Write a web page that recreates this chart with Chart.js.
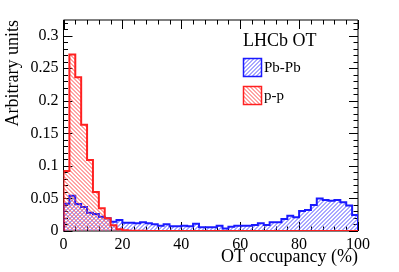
<!DOCTYPE html>
<html>
<head>
<meta charset="utf-8">
<script src="https://cdn.jsdelivr.net/npm/chart.js@4.4.1/dist/chart.umd.min.js"></script>
<style>
  html, body { margin: 0; padding: 0; background: #fff; }
  #wrap { width: 399px; height: 272px; position: relative; }
</style>
</head>
<body>
<div id="wrap"><canvas id="occChart" width="399" height="272"></canvas></div>
<script>
// bin lower edges (%), 2% wide bins
const binEdges = [0, 2, 4, 6, 8, 10, 12, 14, 16, 18, 20, 22, 24, 26, 28, 30, 32, 34, 36, 38,
  40, 42, 44, 46, 48, 50, 52, 54, 56, 58, 60, 62, 64, 66, 68, 70, 72, 74, 76, 78,
  80, 82, 84, 86, 88, 90, 92, 94, 96, 98];
const binWidth = 2;

const pbpbValues = [0.042, 0.054, 0.0415, 0.037, 0.028, 0.026, 0.022, 0.0195, 0.0143, 0.017,
  0.0128, 0.0125, 0.0118, 0.0134, 0.0118, 0.0103, 0.008, 0.0103, 0.0072, 0.0072,
  0.008, 0.0072, 0.0112, 0.0057, 0.0057, 0.0057, 0.008, 0.004, 0.0066, 0.008,
  0.008, 0.008, 0.0092, 0.0118, 0.0092, 0.0134, 0.0134, 0.0184, 0.0235, 0.021,
  0.0307, 0.0323, 0.040, 0.050, 0.0476, 0.0466, 0.0476, 0.044, 0.039, 0.0246];

const ppValues = [0.092, 0.271, 0.236, 0.163, 0.109, 0.060, 0.035, 0.0195, 0.009, 0.0026,
  0.001, 0.0005, 0.0003, 0.0002, 0, 0, 0, 0, 0, 0,
  0, 0, 0, 0, 0, 0, 0, 0, 0, 0,
  0, 0, 0, 0, 0, 0, 0, 0, 0, 0,
  0, 0, 0, 0, 0, 0, 0, 0, 0, 0];

const yTickValues = [0, 0.05, 0.1, 0.15, 0.2, 0.25, 0.3];
const xTickValues = [0, 20, 40, 60, 80, 100];
const seriesNames = ['Pb-Pb', 'p-p'];
const headerText = 'LHCb OT';

const serif = '"Liberation Serif", "DejaVu Serif", serif';

// soft 1px diagonal hatch, repeated every `step` px
function hatch(color, dir, step) {
  const c = document.createElement('canvas');
  c.width = step; c.height = step;
  const g = c.getContext('2d');
  g.strokeStyle = color;
  g.lineWidth = 1;
  g.beginPath();
  for (let k = -1; k <= 2; k++) {
    const off = k * step + 0.5;
    if (dir === '/') {
      g.moveTo(-1, step + off + 1); g.lineTo(step + 1, off - 1);
    } else {
      g.moveTo(-1, off - 1); g.lineTo(step + 1, step + off + 1);
    }
  }
  g.stroke();
  return c;
}

const patterns = {};
function fillPattern(name, color, dir) {
  return (context) => {
    if (!patterns[name]) {
      patterns[name] = context.chart.ctx.createPattern(hatch(color, dir, 4), 'repeat');
    }
    return patterns[name];
  };
}

function steps(values) {
  const pts = [{ x: binEdges[0], y: 0 }];
  values.forEach((v, i) => pts.push({ x: binEdges[i], y: v }));
  const last = binEdges[binEdges.length - 1] + binWidth;
  pts.push({ x: last, y: values[values.length - 1] });
  pts.push({ x: last, y: 0 });
  return pts;
}

const frameTicks = {
  id: 'frameTicks',
  beforeDatasetsDraw(chart) {
    const { ctx, chartArea: a, scales } = chart;
    const x = scales.x, y = scales.y;
    ctx.save();
    ctx.strokeStyle = '#000';
    ctx.lineWidth = 1;
    ctx.beginPath();
    ctx.rect(a.left, a.top, a.right - a.left, a.bottom - a.top);
    for (let k = 0; k <= 32; k++) {
      const py = Math.round(y.getPixelForValue(k / 100)) + 0.5;
      const len = k % 5 === 0 ? 9 : 4.5;
      ctx.moveTo(a.left, py); ctx.lineTo(a.left + len, py);
      ctx.moveTo(a.right, py); ctx.lineTo(a.right - len, py);
    }
    for (let k = 0; k <= 100; k += 4) {
      const px = Math.round(x.getPixelForValue(k)) + 0.5;
      const len = k % 20 === 0 ? 9 : 4.5;
      ctx.moveTo(px, a.bottom); ctx.lineTo(px, a.bottom - len);
      ctx.moveTo(px, a.top); ctx.lineTo(px, a.top + len);
    }
    ctx.stroke();
    ctx.restore();
  },
  afterDraw(chart) {
    const { ctx } = chart;
    ctx.save();
    ctx.fillStyle = '#000';
    ctx.textBaseline = 'middle';
    ctx.textAlign = 'left';
    ctx.font = '18px ' + serif;
    ctx.fillText(headerText, 243, 41);
    const rows = [{ y: 58.5, i: 1 }, { y: 86.5, i: 0 }];
    ctx.font = '15px ' + serif;
    rows.forEach(r => {
      const opts = chart.getDatasetMeta(r.i).dataset.options;
      ctx.fillStyle = opts.backgroundColor;
      ctx.fillRect(243.5, r.y, 18, 18);
      ctx.strokeStyle = opts.borderColor;
      ctx.lineWidth = 1.5;
      ctx.strokeRect(243.5, r.y, 18, 18);
      ctx.fillStyle = '#000';
      ctx.fillText(chart.data.datasets[r.i].label, 264, r.y + 10);
    });
    ctx.restore();
  }
};

new Chart(document.getElementById('occChart'), {
  type: 'line',
  data: {
    datasets: [
      {
        label: seriesNames[1],
        data: steps(ppValues),
        stepped: 'before',
        borderColor: '#ff2020',
        borderWidth: 2,
        backgroundColor: fillPattern('pp', '#ff4a4a', '\\'),
        fill: 'origin',
        pointRadius: 0,
        order: 0
      },
      {
        label: seriesNames[0],
        data: steps(pbpbValues),
        stepped: 'before',
        borderColor: '#1a1aff',
        borderWidth: 2,
        backgroundColor: fillPattern('pbpb', '#5050ff', '/'),
        fill: 'origin',
        pointRadius: 0,
        order: 1
      }
    ]
  },
  options: {
    responsive: false,
    animation: false,
    layout: { padding: { left: 0, right: 41, top: 20, bottom: 0 } },
    plugins: { legend: { display: false }, tooltip: { enabled: false } },
    scales: {
      x: {
        type: 'linear', min: 0, max: 100,
        afterFit: (s) => { s.height = 41; },
        afterBuildTicks: (s) => { s.ticks = xTickValues.map(v => ({ value: v })); },
        grid: { display: false, drawTicks: false },
        border: { display: false },
        ticks: { color: '#000', font: { family: serif, size: 16 }, padding: 4, maxRotation: 0, autoSkip: false },
        title: { display: true, text: 'OT occupancy (%)', align: 'end', color: '#000',
          font: { family: serif, size: 18 }, padding: { top: 0, bottom: 4 } }
      },
      y: {
        min: 0, max: 0.324,
        afterFit: (s) => { s.width = 63.5; },
        afterBuildTicks: (s) => { s.ticks = yTickValues.map(v => ({ value: v })); },
        grid: { display: false, drawTicks: false },
        border: { display: false },
        ticks: { color: '#000', font: { family: serif, size: 16 }, padding: 5,
          callback: (v) => String(+v.toFixed(2)) },
        title: { display: true, text: 'Arbitrary units', align: 'end', color: '#000',
          font: { family: serif, size: 18 }, padding: { top: 2, bottom: 0 } }
      }
    }
  },
  plugins: [frameTicks]
});
</script>
</body>
</html>
